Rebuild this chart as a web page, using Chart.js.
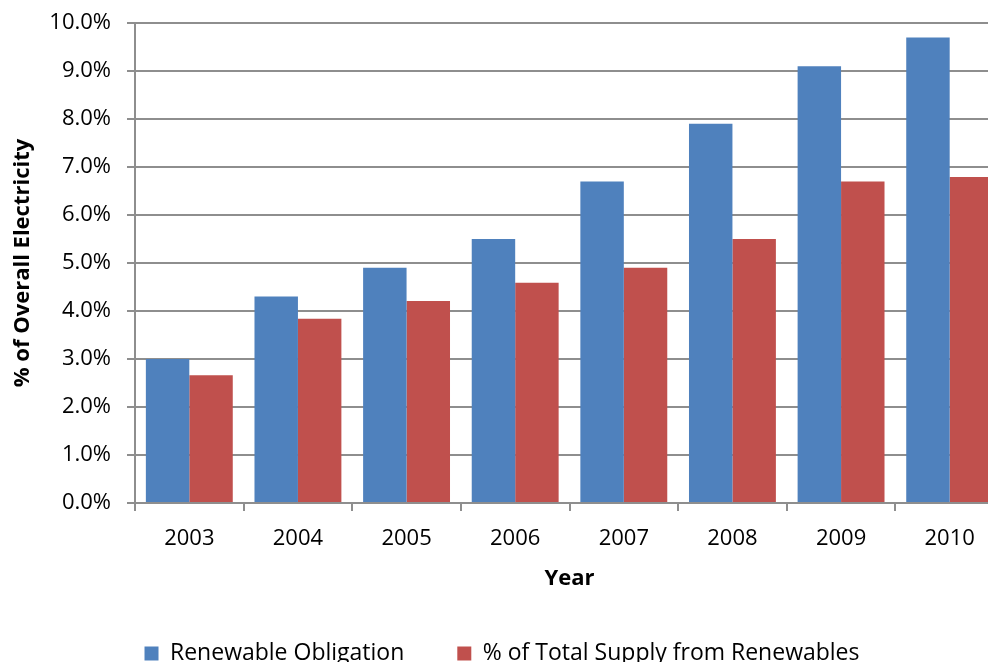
<!DOCTYPE html>
<html>
<head>
<meta charset="utf-8">
<script src="https://cdn.jsdelivr.net/npm/chart.js@4.4.1/dist/chart.umd.min.js"></script>
<style>
  html, body { margin: 0; padding: 0; background: #ffffff; overflow: hidden; }
  #wrap { width: 1004px; height: 662px; }
</style>
</head>
<body>
<div id="wrap"><canvas id="chart" width="1004" height="662"></canvas></div>
<script>
// Years on the horizontal axis
const years = ['2003', '2004', '2005', '2006', '2007', '2008', '2009', '2010'];
// Obligation level set each year (% of overall electricity)
const renewableObligation = [3.0, 4.3, 4.9, 5.5, 6.7, 7.9, 9.1, 9.7];
// Share of total supply actually met from renewables (%)
const supplyFromRenewables = [2.66, 3.84, 4.21, 4.59, 4.9, 5.5, 6.7, 6.79];

const FONT = '"Open Sans", "Noto Sans", "DejaVu Sans", sans-serif';
const GRID = '#8e8e8e';

// Keep the bottom legend at a fixed height so the plot area keeps its size
const fixedLegendHeight = {
  id: 'fixedLegendHeight',
  afterInit(chart) {
    const lg = chart.legend;
    if (!lg) return;
    const origFit = lg.fit.bind(lg);
    lg.fit = function () {
      origFit();
      this.height = 73;
      this.minSize && (this.minSize.height = 73);
    };
  }
};

new Chart(document.getElementById('chart'), {
  type: 'bar',
  data: {
    labels: years,
    datasets: [
      {
        label: 'Renewable Obligation',
        data: renewableObligation,
        backgroundColor: '#4F81BD',
        borderWidth: 0
      },
      {
        label: '% of Total Supply from Renewables',
        data: supplyFromRenewables,
        backgroundColor: '#C0504D',
        borderWidth: 0
      }
    ]
  },
  plugins: [fixedLegendHeight],
  options: {
    responsive: false,
    animation: false,
    layout: { padding: { left: 0, right: 0, top: 23, bottom: 0 } },
    datasets: { bar: { categoryPercentage: 0.8, barPercentage: 1.0 } },
    plugins: {
      tooltip: { enabled: false },
      legend: {
        position: 'bottom',
        labels: {
          color: '#000000',
          font: { family: FONT, size: 23 },
          boxWidth: 14,
          boxHeight: 14,
          padding: 53
        }
      }
    },
    scales: {
      x: {
        grid: {
          display: true,
          drawOnChartArea: false,
          drawTicks: true,
          tickLength: 8,
          color: GRID,
          lineWidth: 2
        },
        border: { display: true, color: GRID, width: 2 },
        ticks: {
          color: '#000000',
          font: { family: FONT, size: 22 },
          padding: 15,
          maxRotation: 0
        },
        title: {
          display: true,
          text: 'Year',
          color: '#000000',
          font: { family: FONT, size: 22, weight: 'bold' },
          padding: { top: 0, bottom: -3 }
        },
        afterFit(scale) {
          scale.height = 86;
          scale.paddingLeft = 0;
          scale.paddingRight = 0;
        }
      },
      y: {
        min: 0,
        max: 10,
        grid: {
          color: GRID,
          lineWidth: 2,
          drawTicks: true,
          tickLength: 8
        },
        border: { display: true, color: GRID, width: 2 },
        ticks: {
          stepSize: 1,
          color: '#000000',
          font: { family: FONT, size: 22 },
          padding: 16,
          callback: (v) => v.toFixed(1) + '%'
        },
        title: {
          display: true,
          text: '% of Overall Electricity',
          color: '#000000',
          font: { family: FONT, size: 22, weight: 'bold' },
          padding: { top: 10, bottom: 0 }
        },
        afterFit(scale) {
          scale.width = 135;
          scale.paddingTop = 0;
          scale.paddingBottom = 0;
        }
      }
    }
  }
});
</script>
</body>
</html>
